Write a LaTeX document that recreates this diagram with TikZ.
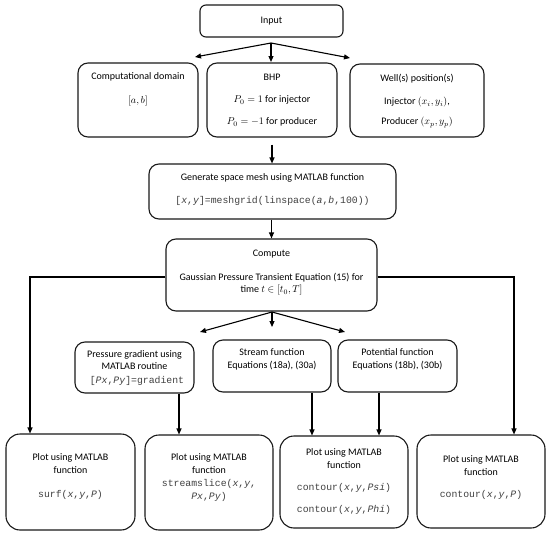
\documentclass[tikz,border=0pt]{standalone}
\usepackage{fontspec}
\setmainfont{Carlito}
\newfontfamily\codefont{Liberation Mono}
\usetikzlibrary{arrows.meta}
\begin{document}
\begin{tikzpicture}[x=1pt,y=-1pt,
  box/.style={draw=black!90, line width=1.1pt, rounded corners=10pt, inner sep=0pt},
  lbl/.style={inner sep=0pt, text height=7pt, text depth=2pt, font=\fontsize{10}{12}\selectfont},
  code/.style={inner sep=0pt, text height=7pt, text depth=2pt, text=black!75, font=\codefont\fontsize{9.8}{12}\selectfont},
  arr/.style={draw=black, line width=1.1pt, -{Triangle[length=6pt,width=5pt]}},
  ln/.style={draw=black, line width=1.1pt}]
\useasboundingbox (0,0) rectangle (550,536);
% boxes
\node[box, rounded corners=6pt, minimum width=143pt, minimum height=32pt] (input) at (271.5,21) {};
\node[box, minimum width=120pt, minimum height=74pt] (comp) at (138,100) {};
\node[box, minimum width=130pt, minimum height=74pt] (bhp) at (272,100) {};
\node[box, minimum width=134pt, minimum height=73pt] (well) at (417,100.5) {};
\node[box, minimum width=247pt, minimum height=55pt] (mesh) at (272.5,191.5) {};
\node[box, minimum width=211pt, minimum height=72pt] (compute) at (271.5,275) {};
\node[box, minimum width=119pt, minimum height=51pt] (pg) at (134.5,367.5) {};
\node[box, minimum width=118pt, minimum height=52pt] (stream) at (272,366) {};
\node[box, minimum width=119pt, minimum height=52pt] (pot) at (397.5,366) {};
\node[box, rounded corners=14pt, minimum width=129pt, minimum height=96pt] (b1) at (70.5,482) {};
\node[box, rounded corners=14pt, minimum width=128pt, minimum height=95pt] (b2) at (209,482.5) {};
\node[box, rounded corners=14pt, minimum width=128pt, minimum height=92pt] (b3) at (344,482) {};
\node[box, rounded corners=14pt, minimum width=128pt, minimum height=93pt] (b4) at (481,481.5) {};
% texts
\node[lbl] (tinput) at (271.5,21) {Input};
\node[lbl] (tcomp1) at (138,77) {Computational domain};
\node[lbl] (tcomp2) at (138,101) {$[a,b]$};
\node[lbl] (tbhp1) at (272,78) {BHP};
\node[lbl] (tbhp2) at (272,100) {$P_0=1$ for injector};
\node[lbl] (tbhp3) at (272,122) {$P_0=-1$ for producer};
\node[lbl] (twell1) at (417,79) {Well(s) position(s)};
\node[lbl] (twell2) at (417,102) {Injector $(x_i,y_i)$,};
\node[lbl] (twell3) at (417,122) {Producer $(x_p,y_p)$};
\node[lbl] (tmesh1) at (272.5,178) {Generate space mesh using MATLAB function};
\node[code] (tmesh2) at (272.5,201) {[\textit{x},\textit{y}]=meshgrid(linspace(\textit{a},\textit{b},100))};
\node[lbl] (tcomp1b) at (271.5,254) {Compute};
\node[lbl] (tcomp2b) at (271.5,278) {Gaussian Pressure Transient Equation (15) for};
\node[lbl] (tcomp3b) at (271.5,290) {time $t\in[t_0,T]$};
\node[lbl] (tpg1) at (134.5,355) {Pressure gradient using};
\node[lbl] (tpg2) at (134.5,367) {MATLAB routine};
\node[code] (tpg3) at (137,381) {[\textit{Px},\textit{Py}]=gradient};
\node[lbl] (tst1) at (272,353) {Stream function};
\node[lbl] (tst2) at (272,366) {Equations (18a), (30a)};
\node[lbl] (tpo1) at (397.5,353) {Potential function};
\node[lbl] (tpo2) at (397.5,366) {Equations (18b), (30b)};
\node[lbl] (tb11) at (70.5,458) {Plot using MATLAB};
\node[lbl] (tb12) at (70.5,471) {function};
\node[code] (tb13) at (70.5,495) {surf(\textit{x},\textit{y},\textit{P})};
\node[lbl] (tb21) at (209,458) {Plot using MATLAB};
\node[lbl] (tb22) at (209,471) {function};
\node[code] (tb23) at (209,484) {streamslice(\textit{x},\textit{y},};
\node[code] (tb24) at (209,497) {\textit{Px},\textit{Py})};
\node[lbl] (tb31) at (344,453) {Plot using MATLAB};
\node[lbl] (tb32) at (344,466) {function};
\node[code] (tb33) at (344,488) {contour(\textit{x},\textit{y},\textit{Psi})};
\node[code] (tb34) at (344,510) {contour(\textit{x},\textit{y},\textit{Phi})};
\node[lbl] (tb41) at (481,460) {Plot using MATLAB};
\node[lbl] (tb42) at (481,473) {function};
\node[code] (tb43) at (481,495) {contour(\textit{x},\textit{y},\textit{P})};
% coordinates
\coordinate (ap1) at (271,43);
\coordinate (e1l) at (195,57);
\coordinate (e1c) at (271,62);
\coordinate (e1r) at (350,58);
\coordinate (ap2) at (272,312);
\coordinate (e2l) at (200,332);
\coordinate (e2c) at (272,327);
\coordinate (e2r) at (345,332);
% connectors
\draw[arr] (ap1) -- (e1l);
\draw[arr] (ap1) -- (e1c);
\draw[arr] (ap1) -- (e1r);
\draw[arr] ([yshift=-7pt]bhp.south) -- (mesh.north -| bhp.south);
\draw[arr] (mesh.south -| compute.north) -- (compute.north);
\draw[arr] (ap2) -- (e2l);
\draw[arr] (ap2) -- (e2c);
\draw[arr] (ap2) -- (e2r);
\draw[arr] ([xshift=44.5pt]pg.south) -- ([xshift=-30pt]b2.north);
\draw[arr] ([xshift=40pt]stream.south) -- ([xshift=-32pt]b3.north);
\draw[arr] ([xshift=-18.5pt]pot.south) -- ([xshift=35pt]b3.north);
\draw[arr] ([yshift=-2pt]compute.west) -| ([xshift=-40.5pt]b1.north);
\draw[arr] ([yshift=-2pt]compute.east) -| ([xshift=33pt]b4.north);
\end{tikzpicture}
\end{document}
